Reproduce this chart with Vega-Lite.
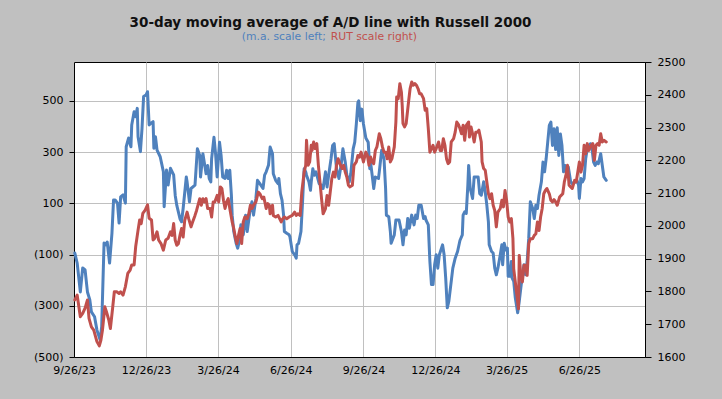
{
  "$schema": "https://vega.github.io/schema/vega-lite/v6.json",
  "width": 571,
  "height": 295,
  "autosize": {"type": "none"},
  "padding": {"left": 74, "top": 62, "right": 77, "bottom": 42},
  "background": "#c0c0c0",
  "title": {
    "text": "30-day moving average of A/D line with Russell 2000",
    "font": "DejaVu Sans",
    "fontSize": 13.5,
    "fontWeight": "bold",
    "color": "#111111",
    "anchor": "middle",
    "frame": "group",
    "baseline": "alphabetic",
    "offset": 3,
    "dx": -29,
    "dy": 12
  },
  "config": {
    "view": {"fill": "white", "stroke": "black", "strokeWidth": 1},
    "font": "DejaVu Sans",
    "axis": {
      "labelFont": "DejaVu Sans",
      "labelFontSize": 11,
      "labelColor": "#000000",
      "domainColor": "#000000",
      "tickColor": "#000000",
      "gridColor": "#c0c0c0",
      "gridWidth": 1,
      "title": null
    }
  },
  "data": {
    "values": [
      {"d":"2023-09-27","s":"ma","v":-94},{"d":"2023-09-30","s":"ma","v":-133},{"d":"2023-10-04","s":"ma","v":-246},{"d":"2023-10-07","s":"ma","v":-152},{"d":"2023-10-10","s":"ma","v":-160},{"d":"2023-10-13","s":"ma","v":-246},{"d":"2023-10-16","s":"ma","v":-277},{"d":"2023-10-18","s":"ma","v":-324},{"d":"2023-10-22","s":"ma","v":-343},{"d":"2023-10-25","s":"ma","v":-395},{"d":"2023-10-29","s":"ma","v":-433},{"d":"2023-10-31","s":"ma","v":-382},{"d":"2023-11-03","s":"ma","v":-55},{"d":"2023-11-05","s":"ma","v":-62},{"d":"2023-11-07","s":"ma","v":-51},{"d":"2023-11-10","s":"ma","v":-133},{"d":"2023-11-13","s":"ma","v":-16},{"d":"2023-11-15","s":"ma","v":113},{"d":"2023-11-17","s":"ma","v":113},{"d":"2023-11-20","s":"ma","v":101},{"d":"2023-11-22","s":"ma","v":23},{"d":"2023-11-24","s":"ma","v":125},{"d":"2023-11-27","s":"ma","v":133},{"d":"2023-11-30","s":"ma","v":101},{"d":"2023-12-01","s":"ma","v":321},{"d":"2023-12-04","s":"ma","v":355},{"d":"2023-12-07","s":"ma","v":321},{"d":"2023-12-08","s":"ma","v":406},{"d":"2023-12-11","s":"ma","v":458},{"d":"2023-12-13","s":"ma","v":438},{"d":"2023-12-15","s":"ma","v":471},{"d":"2023-12-16","s":"ma","v":360},{"d":"2023-12-19","s":"ma","v":302},{"d":"2023-12-21","s":"ma","v":393},{"d":"2023-12-23","s":"ma","v":517},{"d":"2023-12-26","s":"ma","v":523},{"d":"2023-12-28","s":"ma","v":536},{"d":"2023-12-30","s":"ma","v":406},{"d":"2024-01-01","s":"ma","v":412},{"d":"2024-01-04","s":"ma","v":419},{"d":"2024-01-05","s":"ma","v":315},{"d":"2024-01-07","s":"ma","v":360},{"d":"2024-01-09","s":"ma","v":308},{"d":"2024-01-13","s":"ma","v":282},{"d":"2024-01-17","s":"ma","v":224},{"d":"2024-01-18","s":"ma","v":87},{"d":"2024-01-21","s":"ma","v":230},{"d":"2024-01-23","s":"ma","v":172},{"d":"2024-01-26","s":"ma","v":237},{"d":"2024-01-30","s":"ma","v":211},{"d":"2024-02-01","s":"ma","v":131},{"d":"2024-02-03","s":"ma","v":92},{"d":"2024-02-07","s":"ma","v":40},{"d":"2024-02-09","s":"ma","v":28},{"d":"2024-02-11","s":"ma","v":80},{"d":"2024-02-15","s":"ma","v":203},{"d":"2024-02-16","s":"ma","v":184},{"d":"2024-02-19","s":"ma","v":106},{"d":"2024-02-21","s":"ma","v":158},{"d":"2024-02-26","s":"ma","v":171},{"d":"2024-02-29","s":"ma","v":313},{"d":"2024-03-03","s":"ma","v":287},{"d":"2024-03-04","s":"ma","v":203},{"d":"2024-03-07","s":"ma","v":294},{"d":"2024-03-08","s":"ma","v":274},{"d":"2024-03-11","s":"ma","v":216},{"d":"2024-03-13","s":"ma","v":248},{"d":"2024-03-15","s":"ma","v":197},{"d":"2024-03-17","s":"ma","v":184},{"d":"2024-03-18","s":"ma","v":274},{"d":"2024-03-21","s":"ma","v":358},{"d":"2024-03-23","s":"ma","v":294},{"d":"2024-03-25","s":"ma","v":203},{"d":"2024-03-28","s":"ma","v":339},{"d":"2024-03-30","s":"ma","v":287},{"d":"2024-04-01","s":"ma","v":203},{"d":"2024-04-04","s":"ma","v":197},{"d":"2024-04-06","s":"ma","v":229},{"d":"2024-04-08","s":"ma","v":197},{"d":"2024-04-10","s":"ma","v":229},{"d":"2024-04-12","s":"ma","v":132},{"d":"2024-04-13","s":"ma","v":54},{"d":"2024-04-15","s":"ma","v":-10},{"d":"2024-04-18","s":"ma","v":-56},{"d":"2024-04-20","s":"ma","v":-75},{"d":"2024-04-22","s":"ma","v":-49},{"d":"2024-04-24","s":"ma","v":16},{"d":"2024-04-27","s":"ma","v":-23},{"d":"2024-04-30","s":"ma","v":54},{"d":"2024-05-02","s":"ma","v":-10},{"d":"2024-05-06","s":"ma","v":80},{"d":"2024-05-08","s":"ma","v":106},{"d":"2024-05-10","s":"ma","v":54},{"d":"2024-05-13","s":"ma","v":119},{"d":"2024-05-15","s":"ma","v":190},{"d":"2024-05-18","s":"ma","v":177},{"d":"2024-05-22","s":"ma","v":158},{"d":"2024-05-24","s":"ma","v":210},{"d":"2024-05-26","s":"ma","v":223},{"d":"2024-05-29","s":"ma","v":250},{"d":"2024-05-31","s":"ma","v":320},{"d":"2024-06-03","s":"ma","v":294},{"d":"2024-06-04","s":"ma","v":216},{"d":"2024-06-07","s":"ma","v":190},{"d":"2024-06-10","s":"ma","v":177},{"d":"2024-06-11","s":"ma","v":197},{"d":"2024-06-13","s":"ma","v":138},{"d":"2024-06-15","s":"ma","v":113},{"d":"2024-06-17","s":"ma","v":54},{"d":"2024-06-18","s":"ma","v":-10},{"d":"2024-06-21","s":"ma","v":-17},{"d":"2024-06-24","s":"ma","v":-23},{"d":"2024-06-25","s":"ma","v":-30},{"d":"2024-06-28","s":"ma","v":-88},{"d":"2024-07-01","s":"ma","v":-101},{"d":"2024-07-03","s":"ma","v":-114},{"d":"2024-07-04","s":"ma","v":-62},{"d":"2024-07-06","s":"ma","v":-56},{"d":"2024-07-09","s":"ma","v":-10},{"d":"2024-07-11","s":"ma","v":106},{"d":"2024-07-13","s":"ma","v":235},{"d":"2024-07-15","s":"ma","v":223},{"d":"2024-07-16","s":"ma","v":210},{"d":"2024-07-19","s":"ma","v":184},{"d":"2024-07-21","s":"ma","v":151},{"d":"2024-07-22","s":"ma","v":184},{"d":"2024-07-24","s":"ma","v":235},{"d":"2024-07-26","s":"ma","v":210},{"d":"2024-07-28","s":"ma","v":223},{"d":"2024-08-01","s":"ma","v":177},{"d":"2024-08-04","s":"ma","v":171},{"d":"2024-08-06","s":"ma","v":158},{"d":"2024-08-09","s":"ma","v":223},{"d":"2024-08-11","s":"ma","v":164},{"d":"2024-08-13","s":"ma","v":210},{"d":"2024-08-16","s":"ma","v":274},{"d":"2024-08-18","s":"ma","v":326},{"d":"2024-08-20","s":"ma","v":333},{"d":"2024-08-23","s":"ma","v":235},{"d":"2024-08-26","s":"ma","v":197},{"d":"2024-08-29","s":"ma","v":255},{"d":"2024-08-31","s":"ma","v":313},{"d":"2024-09-03","s":"ma","v":261},{"d":"2024-09-05","s":"ma","v":210},{"d":"2024-09-08","s":"ma","v":184},{"d":"2024-09-10","s":"ma","v":216},{"d":"2024-09-13","s":"ma","v":313},{"d":"2024-09-15","s":"ma","v":339},{"d":"2024-09-17","s":"ma","v":410},{"d":"2024-09-19","s":"ma","v":494},{"d":"2024-09-20","s":"ma","v":500},{"d":"2024-09-22","s":"ma","v":423},{"d":"2024-09-24","s":"ma","v":468},{"d":"2024-09-26","s":"ma","v":410},{"d":"2024-09-29","s":"ma","v":355},{"d":"2024-10-02","s":"ma","v":339},{"d":"2024-10-04","s":"ma","v":235},{"d":"2024-10-05","s":"ma","v":261},{"d":"2024-10-07","s":"ma","v":210},{"d":"2024-10-09","s":"ma","v":158},{"d":"2024-10-11","s":"ma","v":203},{"d":"2024-10-15","s":"ma","v":197},{"d":"2024-10-16","s":"ma","v":223},{"d":"2024-10-19","s":"ma","v":307},{"d":"2024-10-22","s":"ma","v":274},{"d":"2024-10-24","s":"ma","v":158},{"d":"2024-10-25","s":"ma","v":54},{"d":"2024-10-28","s":"ma","v":48},{"d":"2024-10-30","s":"ma","v":-10},{"d":"2024-10-31","s":"ma","v":-56},{"d":"2024-11-04","s":"ma","v":-23},{"d":"2024-11-06","s":"ma","v":35},{"d":"2024-11-10","s":"ma","v":35},{"d":"2024-11-13","s":"ma","v":-10},{"d":"2024-11-15","s":"ma","v":-62},{"d":"2024-11-17","s":"ma","v":-4},{"d":"2024-11-19","s":"ma","v":-23},{"d":"2024-11-21","s":"ma","v":41},{"d":"2024-11-23","s":"ma","v":3},{"d":"2024-11-26","s":"ma","v":54},{"d":"2024-11-29","s":"ma","v":16},{"d":"2024-12-01","s":"ma","v":54},{"d":"2024-12-03","s":"ma","v":41},{"d":"2024-12-05","s":"ma","v":93},{"d":"2024-12-08","s":"ma","v":93},{"d":"2024-12-11","s":"ma","v":41},{"d":"2024-12-13","s":"ma","v":48},{"d":"2024-12-14","s":"ma","v":35},{"d":"2024-12-17","s":"ma","v":16},{"d":"2024-12-19","s":"ma","v":-127},{"d":"2024-12-21","s":"ma","v":-217},{"d":"2024-12-23","s":"ma","v":-217},{"d":"2024-12-25","s":"ma","v":-140},{"d":"2024-12-27","s":"ma","v":-101},{"d":"2024-12-29","s":"ma","v":-153},{"d":"2024-12-31","s":"ma","v":-101},{"d":"2025-01-04","s":"ma","v":-62},{"d":"2025-01-06","s":"ma","v":-101},{"d":"2025-01-08","s":"ma","v":-192},{"d":"2025-01-10","s":"ma","v":-308},{"d":"2025-01-12","s":"ma","v":-282},{"d":"2025-01-14","s":"ma","v":-230},{"d":"2025-01-17","s":"ma","v":-153},{"d":"2025-01-20","s":"ma","v":-114},{"d":"2025-01-23","s":"ma","v":-88},{"d":"2025-01-26","s":"ma","v":-45},{"d":"2025-01-29","s":"ma","v":-23},{"d":"2025-01-30","s":"ma","v":54},{"d":"2025-02-01","s":"ma","v":67},{"d":"2025-02-03","s":"ma","v":61},{"d":"2025-02-05","s":"ma","v":171},{"d":"2025-02-06","s":"ma","v":248},{"d":"2025-02-08","s":"ma","v":158},{"d":"2025-02-11","s":"ma","v":119},{"d":"2025-02-13","s":"ma","v":203},{"d":"2025-02-18","s":"ma","v":203},{"d":"2025-02-20","s":"ma","v":138},{"d":"2025-02-22","s":"ma","v":132},{"d":"2025-02-25","s":"ma","v":184},{"d":"2025-02-27","s":"ma","v":145},{"d":"2025-03-01","s":"ma","v":93},{"d":"2025-03-03","s":"ma","v":28},{"d":"2025-03-04","s":"ma","v":-62},{"d":"2025-03-07","s":"ma","v":-88},{"d":"2025-03-09","s":"ma","v":-94},{"d":"2025-03-11","s":"ma","v":-153},{"d":"2025-03-13","s":"ma","v":-179},{"d":"2025-03-15","s":"ma","v":-153},{"d":"2025-03-18","s":"ma","v":-101},{"d":"2025-03-20","s":"ma","v":-62},{"d":"2025-03-21","s":"ma","v":-140},{"d":"2025-03-23","s":"ma","v":-56},{"d":"2025-03-25","s":"ma","v":-82},{"d":"2025-03-27","s":"ma","v":-75},{"d":"2025-03-28","s":"ma","v":-185},{"d":"2025-03-30","s":"ma","v":-185},{"d":"2025-04-01","s":"ma","v":-127},{"d":"2025-04-02","s":"ma","v":-192},{"d":"2025-04-04","s":"ma","v":-204},{"d":"2025-04-06","s":"ma","v":-269},{"d":"2025-04-09","s":"ma","v":-327},{"d":"2025-04-11","s":"ma","v":-282},{"d":"2025-04-13","s":"ma","v":-230},{"d":"2025-04-15","s":"ma","v":-179},{"d":"2025-04-17","s":"ma","v":-140},{"d":"2025-04-19","s":"ma","v":-179},{"d":"2025-04-21","s":"ma","v":-127},{"d":"2025-04-23","s":"ma","v":-36},{"d":"2025-04-25","s":"ma","v":106},{"d":"2025-04-28","s":"ma","v":80},{"d":"2025-04-30","s":"ma","v":41},{"d":"2025-05-02","s":"ma","v":93},{"d":"2025-05-04","s":"ma","v":80},{"d":"2025-05-06","s":"ma","v":132},{"d":"2025-05-09","s":"ma","v":184},{"d":"2025-05-11","s":"ma","v":261},{"d":"2025-05-13","s":"ma","v":223},{"d":"2025-05-15","s":"ma","v":274},{"d":"2025-05-17","s":"ma","v":339},{"d":"2025-05-19","s":"ma","v":404},{"d":"2025-05-21","s":"ma","v":417},{"d":"2025-05-23","s":"ma","v":326},{"d":"2025-05-25","s":"ma","v":391},{"d":"2025-05-27","s":"ma","v":310},{"d":"2025-05-29","s":"ma","v":395},{"d":"2025-05-31","s":"ma","v":287},{"d":"2025-06-02","s":"ma","v":371},{"d":"2025-06-04","s":"ma","v":326},{"d":"2025-06-06","s":"ma","v":223},{"d":"2025-06-08","s":"ma","v":248},{"d":"2025-06-10","s":"ma","v":223},{"d":"2025-06-12","s":"ma","v":242},{"d":"2025-06-15","s":"ma","v":184},{"d":"2025-06-17","s":"ma","v":177},{"d":"2025-06-21","s":"ma","v":184},{"d":"2025-06-23","s":"ma","v":190},{"d":"2025-06-25","s":"ma","v":171},{"d":"2025-06-26","s":"ma","v":119},{"d":"2025-06-28","s":"ma","v":197},{"d":"2025-06-30","s":"ma","v":184},{"d":"2025-07-02","s":"ma","v":197},{"d":"2025-07-04","s":"ma","v":274},{"d":"2025-07-06","s":"ma","v":313},{"d":"2025-07-08","s":"ma","v":320},{"d":"2025-07-10","s":"ma","v":333},{"d":"2025-07-12","s":"ma","v":313},{"d":"2025-07-14","s":"ma","v":261},{"d":"2025-07-16","s":"ma","v":248},{"d":"2025-07-18","s":"ma","v":261},{"d":"2025-07-20","s":"ma","v":255},{"d":"2025-07-23","s":"ma","v":294},{"d":"2025-07-25","s":"ma","v":248},{"d":"2025-07-27","s":"ma","v":203},{"d":"2025-07-30","s":"ma","v":190},
      {"d":"2023-09-27","s":"rut","v":1774},{"d":"2023-09-30","s":"rut","v":1789},{"d":"2023-10-04","s":"rut","v":1723},{"d":"2023-10-07","s":"rut","v":1733},{"d":"2023-10-10","s":"rut","v":1749},{"d":"2023-10-13","s":"rut","v":1774},{"d":"2023-10-15","s":"rut","v":1718},{"d":"2023-10-18","s":"rut","v":1692},{"d":"2023-10-21","s":"rut","v":1682},{"d":"2023-10-25","s":"rut","v":1647},{"d":"2023-10-28","s":"rut","v":1634},{"d":"2023-10-30","s":"rut","v":1651},{"d":"2023-11-01","s":"rut","v":1682},{"d":"2023-11-04","s":"rut","v":1753},{"d":"2023-11-06","s":"rut","v":1738},{"d":"2023-11-09","s":"rut","v":1713},{"d":"2023-11-11","s":"rut","v":1687},{"d":"2023-11-14","s":"rut","v":1753},{"d":"2023-11-16","s":"rut","v":1799},{"d":"2023-11-19","s":"rut","v":1799},{"d":"2023-11-22","s":"rut","v":1794},{"d":"2023-11-24","s":"rut","v":1799},{"d":"2023-11-27","s":"rut","v":1789},{"d":"2023-11-30","s":"rut","v":1815},{"d":"2023-12-03","s":"rut","v":1855},{"d":"2023-12-06","s":"rut","v":1865},{"d":"2023-12-08","s":"rut","v":1881},{"d":"2023-12-11","s":"rut","v":1881},{"d":"2023-12-13","s":"rut","v":1937},{"d":"2023-12-16","s":"rut","v":1987},{"d":"2023-12-18","s":"rut","v":2018},{"d":"2023-12-20","s":"rut","v":2007},{"d":"2023-12-22","s":"rut","v":2038},{"d":"2023-12-25","s":"rut","v":2048},{"d":"2023-12-28","s":"rut","v":2064},{"d":"2023-12-30","s":"rut","v":2023},{"d":"2024-01-02","s":"rut","v":2018},{"d":"2024-01-04","s":"rut","v":1957},{"d":"2024-01-06","s":"rut","v":1962},{"d":"2024-01-09","s":"rut","v":1982},{"d":"2024-01-11","s":"rut","v":1957},{"d":"2024-01-14","s":"rut","v":1946},{"d":"2024-01-17","s":"rut","v":1926},{"d":"2024-01-20","s":"rut","v":1957},{"d":"2024-01-23","s":"rut","v":1962},{"d":"2024-01-26","s":"rut","v":1982},{"d":"2024-01-28","s":"rut","v":1971},{"d":"2024-01-30","s":"rut","v":2007},{"d":"2024-02-01","s":"rut","v":1956},{"d":"2024-02-03","s":"rut","v":1941},{"d":"2024-02-05","s":"rut","v":1946},{"d":"2024-02-07","s":"rut","v":1971},{"d":"2024-02-09","s":"rut","v":1992},{"d":"2024-02-11","s":"rut","v":1966},{"d":"2024-02-13","s":"rut","v":2017},{"d":"2024-02-16","s":"rut","v":2042},{"d":"2024-02-18","s":"rut","v":2022},{"d":"2024-02-21","s":"rut","v":1997},{"d":"2024-02-23","s":"rut","v":2012},{"d":"2024-02-26","s":"rut","v":2032},{"d":"2024-02-28","s":"rut","v":2047},{"d":"2024-03-03","s":"rut","v":2083},{"d":"2024-03-05","s":"rut","v":2063},{"d":"2024-03-07","s":"rut","v":2083},{"d":"2024-03-09","s":"rut","v":2073},{"d":"2024-03-11","s":"rut","v":2083},{"d":"2024-03-13","s":"rut","v":2053},{"d":"2024-03-16","s":"rut","v":2053},{"d":"2024-03-18","s":"rut","v":2027},{"d":"2024-03-20","s":"rut","v":2073},{"d":"2024-03-22","s":"rut","v":2073},{"d":"2024-03-25","s":"rut","v":2093},{"d":"2024-03-27","s":"rut","v":2073},{"d":"2024-03-29","s":"rut","v":2119},{"d":"2024-03-31","s":"rut","v":2114},{"d":"2024-04-02","s":"rut","v":2078},{"d":"2024-04-04","s":"rut","v":2053},{"d":"2024-04-06","s":"rut","v":2073},{"d":"2024-04-08","s":"rut","v":2083},{"d":"2024-04-10","s":"rut","v":2053},{"d":"2024-04-13","s":"rut","v":2012},{"d":"2024-04-15","s":"rut","v":1992},{"d":"2024-04-17","s":"rut","v":1966},{"d":"2024-04-19","s":"rut","v":1946},{"d":"2024-04-21","s":"rut","v":1971},{"d":"2024-04-23","s":"rut","v":1992},{"d":"2024-04-25","s":"rut","v":1946},{"d":"2024-04-27","s":"rut","v":2012},{"d":"2024-04-29","s":"rut","v":2027},{"d":"2024-05-02","s":"rut","v":2022},{"d":"2024-05-04","s":"rut","v":2037},{"d":"2024-05-06","s":"rut","v":2063},{"d":"2024-05-08","s":"rut","v":2053},{"d":"2024-05-10","s":"rut","v":2063},{"d":"2024-05-13","s":"rut","v":2073},{"d":"2024-05-16","s":"rut","v":2103},{"d":"2024-05-18","s":"rut","v":2098},{"d":"2024-05-21","s":"rut","v":2083},{"d":"2024-05-23","s":"rut","v":2088},{"d":"2024-05-26","s":"rut","v":2053},{"d":"2024-05-28","s":"rut","v":2068},{"d":"2024-05-30","s":"rut","v":2063},{"d":"2024-05-31","s":"rut","v":2037},{"d":"2024-06-03","s":"rut","v":2063},{"d":"2024-06-04","s":"rut","v":2032},{"d":"2024-06-07","s":"rut","v":2027},{"d":"2024-06-10","s":"rut","v":2032},{"d":"2024-06-12","s":"rut","v":2022},{"d":"2024-06-14","s":"rut","v":2012},{"d":"2024-06-16","s":"rut","v":2022},{"d":"2024-06-18","s":"rut","v":2027},{"d":"2024-06-21","s":"rut","v":2022},{"d":"2024-06-24","s":"rut","v":2027},{"d":"2024-06-28","s":"rut","v":2032},{"d":"2024-07-01","s":"rut","v":2042},{"d":"2024-07-03","s":"rut","v":2032},{"d":"2024-07-05","s":"rut","v":2037},{"d":"2024-07-08","s":"rut","v":2032},{"d":"2024-07-10","s":"rut","v":2103},{"d":"2024-07-13","s":"rut","v":2164},{"d":"2024-07-15","s":"rut","v":2185},{"d":"2024-07-16","s":"rut","v":2261},{"d":"2024-07-18","s":"rut","v":2185},{"d":"2024-07-20","s":"rut","v":2195},{"d":"2024-07-22","s":"rut","v":2246},{"d":"2024-07-23","s":"rut","v":2230},{"d":"2024-07-25","s":"rut","v":2256},{"d":"2024-07-27","s":"rut","v":2236},{"d":"2024-07-29","s":"rut","v":2251},{"d":"2024-07-31","s":"rut","v":2185},{"d":"2024-08-02","s":"rut","v":2134},{"d":"2024-08-04","s":"rut","v":2083},{"d":"2024-08-06","s":"rut","v":2037},{"d":"2024-08-09","s":"rut","v":2053},{"d":"2024-08-11","s":"rut","v":2093},{"d":"2024-08-13","s":"rut","v":2063},{"d":"2024-08-15","s":"rut","v":2103},{"d":"2024-08-17","s":"rut","v":2144},{"d":"2024-08-19","s":"rut","v":2164},{"d":"2024-08-21","s":"rut","v":2149},{"d":"2024-08-23","s":"rut","v":2185},{"d":"2024-08-25","s":"rut","v":2205},{"d":"2024-08-28","s":"rut","v":2185},{"d":"2024-08-30","s":"rut","v":2175},{"d":"2024-09-01","s":"rut","v":2185},{"d":"2024-09-03","s":"rut","v":2164},{"d":"2024-09-05","s":"rut","v":2149},{"d":"2024-09-07","s":"rut","v":2124},{"d":"2024-09-09","s":"rut","v":2119},{"d":"2024-09-12","s":"rut","v":2124},{"d":"2024-09-14","s":"rut","v":2185},{"d":"2024-09-17","s":"rut","v":2195},{"d":"2024-09-19","s":"rut","v":2215},{"d":"2024-09-21","s":"rut","v":2210},{"d":"2024-09-23","s":"rut","v":2225},{"d":"2024-09-26","s":"rut","v":2195},{"d":"2024-09-29","s":"rut","v":2225},{"d":"2024-10-01","s":"rut","v":2215},{"d":"2024-10-03","s":"rut","v":2185},{"d":"2024-10-05","s":"rut","v":2210},{"d":"2024-10-07","s":"rut","v":2195},{"d":"2024-10-09","s":"rut","v":2190},{"d":"2024-10-11","s":"rut","v":2230},{"d":"2024-10-13","s":"rut","v":2241},{"d":"2024-10-16","s":"rut","v":2281},{"d":"2024-10-18","s":"rut","v":2266},{"d":"2024-10-20","s":"rut","v":2241},{"d":"2024-10-22","s":"rut","v":2225},{"d":"2024-10-24","s":"rut","v":2225},{"d":"2024-10-26","s":"rut","v":2205},{"d":"2024-10-28","s":"rut","v":2241},{"d":"2024-10-30","s":"rut","v":2195},{"d":"2024-11-01","s":"rut","v":2205},{"d":"2024-11-04","s":"rut","v":2241},{"d":"2024-11-06","s":"rut","v":2317},{"d":"2024-11-07","s":"rut","v":2393},{"d":"2024-11-09","s":"rut","v":2388},{"d":"2024-11-11","s":"rut","v":2434},{"d":"2024-11-13","s":"rut","v":2408},{"d":"2024-11-14","s":"rut","v":2368},{"d":"2024-11-15","s":"rut","v":2312},{"d":"2024-11-17","s":"rut","v":2302},{"d":"2024-11-19","s":"rut","v":2312},{"d":"2024-11-22","s":"rut","v":2378},{"d":"2024-11-24","s":"rut","v":2419},{"d":"2024-11-26","s":"rut","v":2439},{"d":"2024-11-28","s":"rut","v":2429},{"d":"2024-11-30","s":"rut","v":2434},{"d":"2024-12-02","s":"rut","v":2429},{"d":"2024-12-04","s":"rut","v":2419},{"d":"2024-12-06","s":"rut","v":2403},{"d":"2024-12-08","s":"rut","v":2403},{"d":"2024-12-11","s":"rut","v":2388},{"d":"2024-12-13","s":"rut","v":2353},{"d":"2024-12-15","s":"rut","v":2358},{"d":"2024-12-17","s":"rut","v":2297},{"d":"2024-12-19","s":"rut","v":2225},{"d":"2024-12-21","s":"rut","v":2236},{"d":"2024-12-23","s":"rut","v":2246},{"d":"2024-12-25","s":"rut","v":2225},{"d":"2024-12-27","s":"rut","v":2236},{"d":"2024-12-30","s":"rut","v":2256},{"d":"2025-01-01","s":"rut","v":2230},{"d":"2025-01-03","s":"rut","v":2230},{"d":"2025-01-05","s":"rut","v":2266},{"d":"2025-01-07","s":"rut","v":2246},{"d":"2025-01-09","s":"rut","v":2205},{"d":"2025-01-11","s":"rut","v":2190},{"d":"2025-01-13","s":"rut","v":2195},{"d":"2025-01-15","s":"rut","v":2256},{"d":"2025-01-18","s":"rut","v":2266},{"d":"2025-01-20","s":"rut","v":2286},{"d":"2025-01-22","s":"rut","v":2317},{"d":"2025-01-24","s":"rut","v":2310},{"d":"2025-01-26","s":"rut","v":2297},{"d":"2025-01-28","s":"rut","v":2281},{"d":"2025-01-30","s":"rut","v":2307},{"d":"2025-02-01","s":"rut","v":2261},{"d":"2025-02-03","s":"rut","v":2307},{"d":"2025-02-06","s":"rut","v":2317},{"d":"2025-02-07","s":"rut","v":2271},{"d":"2025-02-09","s":"rut","v":2302},{"d":"2025-02-11","s":"rut","v":2281},{"d":"2025-02-13","s":"rut","v":2256},{"d":"2025-02-15","s":"rut","v":2286},{"d":"2025-02-17","s":"rut","v":2286},{"d":"2025-02-19","s":"rut","v":2292},{"d":"2025-02-22","s":"rut","v":2256},{"d":"2025-02-23","s":"rut","v":2195},{"d":"2025-02-25","s":"rut","v":2175},{"d":"2025-02-27","s":"rut","v":2170},{"d":"2025-03-01","s":"rut","v":2134},{"d":"2025-03-03","s":"rut","v":2098},{"d":"2025-03-05","s":"rut","v":2083},{"d":"2025-03-07","s":"rut","v":2098},{"d":"2025-03-09","s":"rut","v":2063},{"d":"2025-03-11","s":"rut","v":2047},{"d":"2025-03-13","s":"rut","v":1997},{"d":"2025-03-15","s":"rut","v":2042},{"d":"2025-03-18","s":"rut","v":2053},{"d":"2025-03-20","s":"rut","v":2078},{"d":"2025-03-22","s":"rut","v":2058},{"d":"2025-03-24","s":"rut","v":2108},{"d":"2025-03-26","s":"rut","v":2078},{"d":"2025-03-28","s":"rut","v":2027},{"d":"2025-03-30","s":"rut","v":2012},{"d":"2025-04-01","s":"rut","v":2022},{"d":"2025-04-03","s":"rut","v":1961},{"d":"2025-04-04","s":"rut","v":1869},{"d":"2025-04-06","s":"rut","v":1829},{"d":"2025-04-09","s":"rut","v":1768},{"d":"2025-04-10","s":"rut","v":1747},{"d":"2025-04-11","s":"rut","v":1910},{"d":"2025-04-13","s":"rut","v":1849},{"d":"2025-04-15","s":"rut","v":1829},{"d":"2025-04-17","s":"rut","v":1880},{"d":"2025-04-19","s":"rut","v":1880},{"d":"2025-04-21","s":"rut","v":1849},{"d":"2025-04-23","s":"rut","v":1946},{"d":"2025-04-25","s":"rut","v":1961},{"d":"2025-04-28","s":"rut","v":1961},{"d":"2025-04-30","s":"rut","v":1971},{"d":"2025-05-02","s":"rut","v":1976},{"d":"2025-05-04","s":"rut","v":2012},{"d":"2025-05-06","s":"rut","v":1986},{"d":"2025-05-08","s":"rut","v":2027},{"d":"2025-05-10","s":"rut","v":2053},{"d":"2025-05-12","s":"rut","v":2098},{"d":"2025-05-14","s":"rut","v":2108},{"d":"2025-05-16","s":"rut","v":2114},{"d":"2025-05-19","s":"rut","v":2098},{"d":"2025-05-21","s":"rut","v":2078},{"d":"2025-05-23","s":"rut","v":2073},{"d":"2025-05-25","s":"rut","v":2080},{"d":"2025-05-27","s":"rut","v":2073},{"d":"2025-05-29","s":"rut","v":2063},{"d":"2025-06-01","s":"rut","v":2088},{"d":"2025-06-03","s":"rut","v":2093},{"d":"2025-06-05","s":"rut","v":2098},{"d":"2025-06-07","s":"rut","v":2134},{"d":"2025-06-09","s":"rut","v":2154},{"d":"2025-06-11","s":"rut","v":2185},{"d":"2025-06-13","s":"rut","v":2124},{"d":"2025-06-15","s":"rut","v":2119},{"d":"2025-06-17","s":"rut","v":2114},{"d":"2025-06-20","s":"rut","v":2139},{"d":"2025-06-22","s":"rut","v":2134},{"d":"2025-06-24","s":"rut","v":2164},{"d":"2025-06-26","s":"rut","v":2195},{"d":"2025-06-28","s":"rut","v":2164},{"d":"2025-06-30","s":"rut","v":2185},{"d":"2025-07-02","s":"rut","v":2246},{"d":"2025-07-04","s":"rut","v":2220},{"d":"2025-07-06","s":"rut","v":2251},{"d":"2025-07-08","s":"rut","v":2230},{"d":"2025-07-11","s":"rut","v":2246},{"d":"2025-07-13","s":"rut","v":2251},{"d":"2025-07-15","s":"rut","v":2200},{"d":"2025-07-17","s":"rut","v":2246},{"d":"2025-07-19","s":"rut","v":2251},{"d":"2025-07-21","s":"rut","v":2246},{"d":"2025-07-23","s":"rut","v":2281},{"d":"2025-07-25","s":"rut","v":2256},{"d":"2025-07-27","s":"rut","v":2261},{"d":"2025-07-30","s":"rut","v":2256}
    ]
  },
  "encoding": {
    "x": {
      "field": "d",
      "type": "temporal",
      "scale": {
        "type": "utc",
        "domain": [{"year": 2023, "month": 9, "date": 26, "utc": true}, {"year": 2025, "month": 9, "date": 17, "utc": true}]
      },
      "axis": {
        "values": [
          {"year": 2023, "month": 9, "date": 26, "utc": true},
          {"year": 2023, "month": 12, "date": 26, "utc": true},
          {"year": 2024, "month": 3, "date": 26, "utc": true},
          {"year": 2024, "month": 6, "date": 26, "utc": true},
          {"year": 2024, "month": 9, "date": 26, "utc": true},
          {"year": 2024, "month": 12, "date": 26, "utc": true},
          {"year": 2025, "month": 3, "date": 26, "utc": true},
          {"year": 2025, "month": 6, "date": 26, "utc": true}
        ],
        "format": "%-m/%-d/%y",
        "grid": true,
        "ticks": false,
        "tickSize": 0,
        "labelPadding": 7,
        "labelFlush": false,
        "labelOverlap": false,
        "title": null
      }
    }
  },
  "layer": [
    {
      "layer": [
        {
          "data": {"values": [{}]},
          "mark": {"type": "rule", "color": "#000000", "strokeWidth": 1},
          "encoding": {"y": {"datum": 0, "type": "quantitative"}}
        },
        {
          "transform": [{"filter": "datum.s === 'ma'"}],
          "mark": {"type": "line", "strokeWidth": 3, "strokeJoin": "round", "strokeCap": "round"},
          "encoding": {
            "y": {
              "field": "v",
              "type": "quantitative",
              "scale": {"domain": [-500, 652], "nice": false, "zero": false},
              "axis": {
                "orient": "left",
                "values": [-500, -300, -100, 100, 300, 500],
                "labelExpr": "datum.value < 0 ? '(' + format(-datum.value, 'd') + ')' : format(datum.value, 'd')",
                "grid": true,
                "tickSize": 5,
                "labelPadding": 6,
                "title": null
              }
            },
            "color": {
              "field": "s",
              "type": "nominal",
              "scale": {"domain": ["ma", "rut"], "range": ["#4f81bd", "#c0504d"]},
              "legend": {
                "orient": "none",
                "legendX": 169,
                "legendY": -31,
                "direction": "horizontal",
                "title": null,
                "symbolSize": 0,
                "symbolStrokeWidth": 0,
                "symbolOpacity": 0,
                "labelOffset": -12,
                "columnPadding": 4,
                "labelFont": "DejaVu Sans",
                "labelFontSize": 10.8,
                "labelExpr": "datum.value === 'ma' ? '(m.a. scale left;' : 'RUT scale right)'",
                "labelColor": {"expr": "datum.value === 'ma' ? '#4f81bd' : '#c0504d'"}
              }
            }
          }
        }
      ]
    },
    {
      "transform": [{"filter": "datum.s === 'rut'"}],
      "mark": {"type": "line", "strokeWidth": 3, "strokeJoin": "round", "strokeCap": "round"},
      "encoding": {
        "y": {
          "field": "v",
          "type": "quantitative",
          "scale": {"domain": [1600, 2500], "nice": false, "zero": false},
          "axis": {
            "orient": "right",
            "values": [1600, 1700, 1800, 1900, 2000, 2100, 2200, 2300, 2400, 2500],
            "format": "d",
            "grid": false,
            "tickSize": 6,
            "labelPadding": 6,
            "title": null
          }
        },
        "color": {"field": "s", "type": "nominal"}
      }
    }
  ],
  "resolve": {"scale": {"y": "independent"}}
}
